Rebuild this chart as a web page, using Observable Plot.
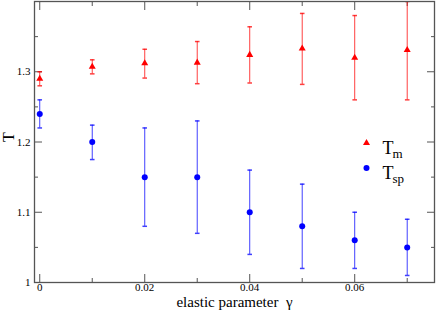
<!DOCTYPE html>
<html><head><meta charset="utf-8">
<script src="https://cdn.jsdelivr.net/npm/d3@7"></script>
<script src="https://cdn.jsdelivr.net/npm/@observablehq/plot@0.6"></script>
<style>
body{margin:0;background:#fff}
svg text{font-family:'Liberation Serif','Times New Roman',serif}
</style>
</head><body><div id="chart"></div>
<script>
const gamma = [0, 0.01, 0.02, 0.03, 0.04, 0.05, 0.06, 0.07];
const tm    = [1.29, 1.307, 1.312, 1.313, 1.324, 1.333, 1.32, 1.331];
const tmLo  = [1.28, 1.297, 1.291, 1.283, 1.284, 1.282, 1.26, 1.26];
const tmHi  = [1.30, 1.317, 1.332, 1.343, 1.364, 1.383, 1.38, 1.40];
const tsp   = [1.24, 1.20, 1.15, 1.15, 1.10, 1.08, 1.06, 1.05];
const tspLo = [1.22, 1.175, 1.08, 1.07, 1.04, 1.02, 1.02, 1.01];
const tspHi = [1.26, 1.224, 1.22, 1.23, 1.16, 1.14, 1.10, 1.09];
const xMajor = [0, 0.02, 0.04, 0.06];
const xMinor = [0.01, 0.03, 0.05, 0.07];
const yMajor = [1, 1.1, 1.2, 1.3];
const yMinor = [1.05, 1.15, 1.25, 1.35];
const legendLabels = ["T", "T"];
const legendSubs = ["m", "sp"];

const rows = (ys, lo, hi) => gamma.map((g, i) => ({g, y: ys[i], lo: lo[i], hi: hi[i]}));
const mData = rows(tm, tmLo, tmHi);
const sData = rows(tsp, tspLo, tspHi);

const cap = {draw(ctx) { ctx.moveTo(-2.3, 0); ctx.lineTo(2.3, 0); }};
const serif = "'Liberation Serif', 'Times New Roman', serif";
const axisColor = "#555";
const red = "#ff0000", blue = "#0000ff";
const fmt = d => String(+d.toFixed(4));

const noLabel = () => "";
const chart = Plot.plot({
  width: 436, height: 314,
  marginLeft: 34, marginRight: 2, marginTop: 1, marginBottom: 32,
  style: {fontFamily: serif, fontSize: "11px", background: "#fff", color: "#000"},
  x: {domain: [-0.001, 0.0752]},
  y: {domain: [1, 1.4]},
  marks: [
    Plot.axisX({anchor: "bottom", ticks: xMajor, tickSize: -8, tickFormat: noLabel, label: null, stroke: axisColor}),
    Plot.axisX({anchor: "bottom", ticks: xMinor, tickSize: -4, tickFormat: noLabel, label: null, stroke: axisColor}),
    Plot.axisX({anchor: "top", ticks: xMajor, tickSize: -8, tickFormat: noLabel, label: null, stroke: axisColor}),
    Plot.axisX({anchor: "top", ticks: xMinor, tickSize: -4, tickFormat: noLabel, label: null, stroke: axisColor}),
    Plot.axisY({anchor: "left", ticks: yMajor, tickSize: -8, tickFormat: noLabel, label: null, stroke: axisColor}),
    Plot.axisY({anchor: "left", ticks: yMinor, tickSize: -4, tickFormat: noLabel, label: null, stroke: axisColor}),
    Plot.axisY({anchor: "right", ticks: yMajor, tickSize: -8, tickFormat: noLabel, label: null, stroke: axisColor}),
    Plot.axisY({anchor: "right", ticks: yMinor, tickSize: -4, tickFormat: noLabel, label: null, stroke: axisColor}),
    Plot.axisX({anchor: "bottom", ticks: xMajor, tickSize: 0, tickPadding: 1, tickFormat: fmt, label: null, fontSize: 11, fontFamily: serif}),
    Plot.axisY({anchor: "left", ticks: yMajor, tickSize: 0, tickPadding: 4, tickFormat: fmt, label: null, fontSize: 11, fontFamily: serif}),
    // error bars
    Plot.ruleX(mData, {x: "g", y1: "lo", y2: "hi", stroke: red, strokeOpacity: 0.75, clip: true}),
    Plot.dot(mData, {x: "g", y: "lo", symbol: cap, stroke: red, strokeOpacity: 0.75, fill: "none", clip: true}),
    Plot.dot(mData, {x: "g", y: "hi", symbol: cap, stroke: red, strokeOpacity: 0.75, fill: "none", clip: true}),
    Plot.ruleX(sData, {x: "g", y1: "lo", y2: "hi", stroke: blue, strokeOpacity: 0.75, clip: true}),
    Plot.dot(sData, {x: "g", y: "lo", symbol: cap, stroke: blue, strokeOpacity: 0.75, fill: "none", clip: true}),
    Plot.dot(sData, {x: "g", y: "hi", symbol: cap, stroke: blue, strokeOpacity: 0.75, fill: "none", clip: true}),
    // markers
    Plot.dot(mData, {x: "g", y: "y", symbol: "triangle", r: 2.6, fill: red, stroke: "none"}),
    Plot.dot(sData, {x: "g", y: "y", symbol: "circle", r: 3, fill: blue, stroke: "none"}),
    Plot.frame({stroke: axisColor, strokeWidth: 1.3}),
    // axis titles
    Plot.text(["elastic parameter  γ"], {frameAnchor: "bottom", dy: 24.5, fontSize: 15, fontFamily: serif, fill: "#000"}),
    Plot.text(["T"], {frameAnchor: "left", dx: -26, dy: 0, rotate: -90, fontSize: 16, fontFamily: serif, fill: "#000"}),
    // legend
    Plot.dot([0], {frameAnchor: "top-right", dx: -68, dy: 141.5, symbol: "triangle", r: 2.6, fill: red, stroke: "none"}),
    Plot.dot([0], {frameAnchor: "top-right", dx: -68, dy: 166.5, symbol: "circle", r: 3, fill: blue, stroke: "none"}),
    Plot.text([legendLabels[0]], {frameAnchor: "top-right", dx: -52, dy: 140, textAnchor: "start", fontSize: 18, fontFamily: serif, fill: "#000"}),
    Plot.text([legendSubs[0]], {frameAnchor: "top-right", dx: -42, dy: 146.8, textAnchor: "start", fontSize: 13, fontFamily: serif, fill: "#000"}),
    Plot.text([legendLabels[1]], {frameAnchor: "top-right", dx: -52, dy: 165, textAnchor: "start", fontSize: 18, fontFamily: serif, fill: "#000"}),
    Plot.text([legendSubs[1]], {frameAnchor: "top-right", dx: -42, dy: 171.8, textAnchor: "start", fontSize: 13, fontFamily: serif, fill: "#000"})
  ]
});
document.getElementById("chart").appendChild(chart);
</script>
</body></html>
